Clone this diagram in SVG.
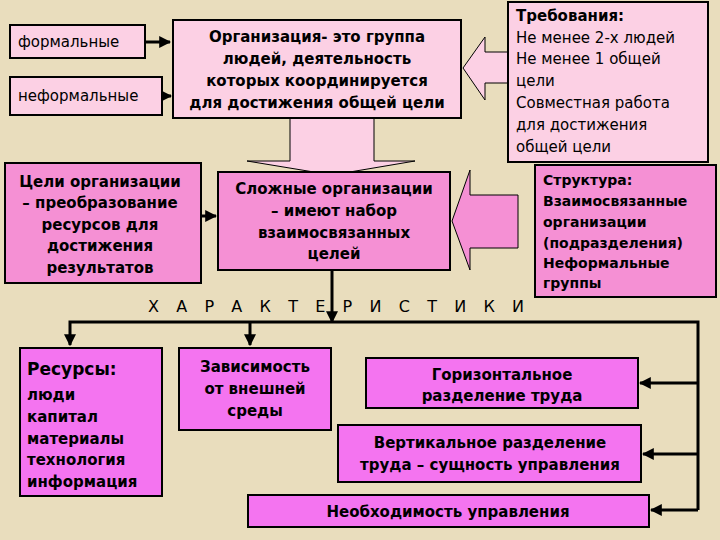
<svg xmlns="http://www.w3.org/2000/svg" width="720" height="540" viewBox="0 0 720 540">
<defs>
<marker id="ah" viewBox="0 0 10 10" refX="9" refY="5" markerWidth="4" markerHeight="4" orient="auto"><path d="M0,0L10,5L0,10z" fill="#000"/></marker>
<style>
text{font-family:"DejaVu Sans","Liberation Sans",sans-serif;font-size:15px;fill:#000}
.b{font-weight:bold}
.lp{fill:#fcd0e4;stroke:#000;stroke-width:2}
.mp{fill:#f590d4;stroke:#000;stroke-width:2}
.mg{fill:#f474f0;stroke:#000;stroke-width:2}
.ln{fill:none;stroke:#000;stroke-width:3}
.ba{fill:#fcd0e4;stroke:#000;stroke-width:1}
.bb{fill:#f590d4;stroke:#000;stroke-width:1}
</style>
</defs>
<rect width="720" height="540" fill="#e9ddbd"/>
<g id="connectors">
<polygon class="ba" points="290,118 374,118 374,161 415,161 332,175 247,161 290,161"/>
<polygon class="ba" points="508,52 485,52 485,37 463,68 485,100 485,83 508,83"/>
<polygon class="bb" points="518,195 470,195 470,170 452,221 470,270 470,248 518,248"/>
<path class="ln" d="M145,42H170" marker-end="url(#ah)"/>
<path class="ln" d="M162,96H171" marker-end="url(#ah)"/>
<path class="ln" d="M201,216H216" marker-end="url(#ah)"/>
<path class="ln" d="M332,270V322" marker-end="url(#ah)"/>
<path class="ln" d="M698,510V322H70V345" marker-end="url(#ah)"/>
<path class="ln" d="M250,322V345" marker-end="url(#ah)"/>
<path class="ln" d="M698,383H640" marker-end="url(#ah)"/>
<path class="ln" d="M698,454H643" marker-end="url(#ah)"/>
<path class="ln" d="M698,510H651" marker-end="url(#ah)"/>
</g>
<g id="formal"><rect class="lp" x="10" y="25" width="135" height="33"/><text x="18" y="47">формальные</text></g>
<g id="informal"><rect class="lp" x="10" y="77" width="152" height="38"/><text x="18" y="101">неформальные</text></g>
<g id="org"><rect class="lp" x="173" y="20" width="288" height="98"/>
<text class="b" text-anchor="middle" x="317" y="42">Организация- это группа</text>
<text class="b" text-anchor="middle" x="317" y="64">людей, деятельность</text>
<text class="b" text-anchor="middle" x="317" y="86">которых  координируется</text>
<text class="b" text-anchor="middle" x="317" y="108">для достижения общей цели</text></g>
<g id="req"><rect class="lp" x="508" y="2" width="200" height="160"/>
<text class="b" x="516" y="21">Требования:</text>
<text x="516" y="43">Не менее 2-х людей</text>
<text x="516" y="64">Не менее 1 общей</text>
<text x="516" y="86">цели</text>
<text x="516" y="108">Совместная работа</text>
<text x="516" y="130">для достижения</text>
<text x="516" y="152">общей цели</text></g>
<g id="goals"><rect class="mp" x="5" y="163" width="196" height="120"/>
<g class="b" text-anchor="middle"><text x="100" y="187">Цели организации</text><text x="100" y="208">– преобразование</text><text x="100" y="230">ресурсов для</text><text x="100" y="251">достижения</text><text x="100" y="273">результатов</text></g></g>
<g id="complex"><rect class="mp" x="218" y="172" width="232" height="98"/>
<g class="b" text-anchor="middle"><text x="334" y="194">Сложные организации</text><text x="334" y="216">–  имеют набор</text><text x="334" y="238">взаимосвязанных</text><text x="334" y="259">целей</text></g></g>
<g id="struct"><rect class="mp" x="535" y="165" width="181" height="132"/>
<g class="b"><text x="543" y="185" style="font-size:14px">Структура:</text><text x="543" y="206" style="font-size:14px">Взаимосвязанные</text><text x="543" y="227" style="font-size:14px">организации</text><text x="543" y="248" style="font-size:14px">(подразделения)</text><text x="543" y="268" style="font-size:14px">Неформальные</text><text x="543" y="288" style="font-size:14px">группы</text></g></g>
<text x="148" y="312" textLength="376" style="font-size:16px">Х А Р А К Т Е Р И С Т И К И</text>
<g id="resources"><rect class="mg" x="20" y="348" width="142" height="148"/>
<text class="b" x="27" y="375" style="font-size:17px">Ресурсы:</text>
<g class="b"><text x="27" y="400">люди</text><text x="27" y="422">капитал</text><text x="27" y="444">материалы</text><text x="27" y="465">технология</text><text x="27" y="487">информация</text></g></g>
<g id="env"><rect class="mg" x="179" y="348" width="152" height="82"/>
<g class="b" text-anchor="middle"><text x="255" y="372">Зависимость</text><text x="255" y="394">от внешней</text><text x="255" y="416">среды</text></g></g>
<g id="horiz"><rect class="mg" x="366" y="358" width="272" height="50"/>
<g class="b" text-anchor="middle"><text x="502" y="380">Горизонтальное</text><text x="502" y="401">разделение труда</text></g></g>
<g id="vert"><rect class="mg" x="338" y="425" width="303" height="57"/>
<g class="b" text-anchor="middle"><text x="490" y="448">Вертикальное разделение</text><text x="490" y="470">труда – сущность управления</text></g></g>
<g id="need"><rect class="mg" x="248" y="495" width="401" height="32"/>
<text class="b" text-anchor="middle" x="448" y="517">Необходимость управления</text></g>
</svg>
